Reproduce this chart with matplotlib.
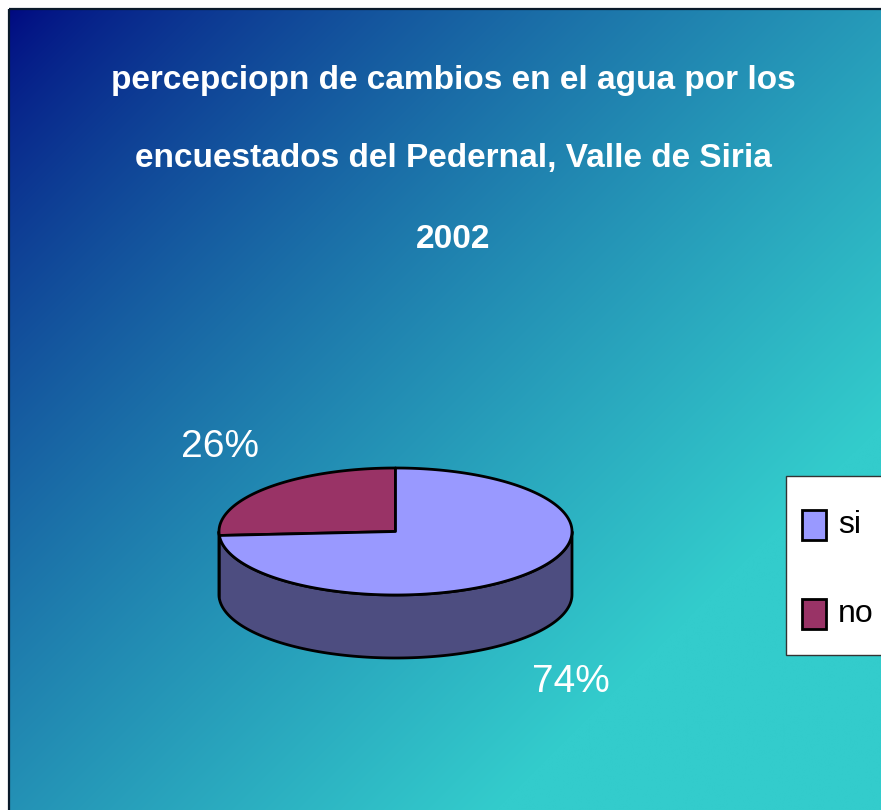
import numpy as np
import matplotlib
matplotlib.use("Agg")
import matplotlib.pyplot as plt
from matplotlib.patches import Polygon, Rectangle

# data
labels = ["si", "no"]
values = [74, 26]
pct_labels = ["74%", "26%"]
title_lines = ["percepciopn de cambios en el agua por los",
               "encuestados del Pedernal, Valle de Siria",
               "2002"]

top_colors = ["#9999ff", "#993366"]
side_colors = ["#4d4d80", "#4d1a33"]

W, H = 881, 810
fig = plt.figure(figsize=(W / 100, H / 100), dpi=100)
ax = fig.add_axes([0, 0, 1, 1])
ax.set_xlim(0, W)
ax.set_ylim(H, 0)
ax.axis("off")

# gradient background, navy top-left to turquoise bottom-right
c0 = np.array([0, 8, 128]) / 255
c1 = np.array([51, 204, 204]) / 255
yy, xx = np.mgrid[0:H, 0:W]
d = (xx + yy) / (W + H)
t = np.clip(d * 1.3, 0, 1) ** 0.75
img = c0 + (c1 - c0) * t[..., None]
ax.imshow(img, extent=[9, W, H, 9], zorder=0, aspect="auto")
ax.add_patch(Rectangle((9, 9), W + 10, H + 10, fill=False,
                       edgecolor="#0a1a2a", lw=1.6, zorder=1))

fam = ["Liberation Sans", "DejaVu Sans"]
for k, yt in enumerate([81, 158, 239]):
    ax.text(453, yt, title_lines[k], ha="center", va="center",
            color="white", fontsize=24, fontweight="bold",
            family=fam, zorder=5)

# 3d pie geometry (pixel coords)
cx, cy, rx, ry, depth = 395.5, 531.5, 176.5, 63.5, 63


def pt(a, dz=0):
    return cx + rx * np.cos(a), cy - ry * np.sin(a) + dz


# slices start at 12 o'clock, going counter-clockwise: "no" first
order = [1, 0]
start = np.pi / 2
angles = {}
for i in order:
    span = 2 * np.pi * values[i] / sum(values)
    angles[i] = (start, start + span)
    start += span

lw = 2.0
# sides (front half only)
for i in order:
    a0, a1 = angles[i]
    for k in (-1, 0, 1):
        lo = max(a0, np.pi + 2 * np.pi * k)
        hi = min(a1, 2 * np.pi + 2 * np.pi * k)
        if hi <= lo:
            continue
        a = np.linspace(lo, hi, 120)
        xs, ys = pt(a)
        poly = np.column_stack([np.r_[xs, xs[::-1]],
                                np.r_[ys, (ys + depth)[::-1]]])
        ax.add_patch(Polygon(poly, closed=True, facecolor=side_colors[i],
                             edgecolor="black", lw=lw, zorder=2,
                             joinstyle="round"))

# top faces
for i in order:
    a0, a1 = angles[i]
    a = np.linspace(a0, a1, 200)
    xs, ys = pt(a)
    poly = np.column_stack([np.r_[cx, xs], np.r_[cy, ys]])
    ax.add_patch(Polygon(poly, closed=True, facecolor=top_colors[i],
                         edgecolor="black", lw=lw, zorder=3,
                         joinstyle="round"))

# percent labels
ax.text(220, 447, pct_labels[1], ha="center", va="center", color="white",
        fontsize=28, family=fam, zorder=5)
ax.text(571, 682, pct_labels[0], ha="center", va="center", color="white",
        fontsize=28, family=fam, zorder=5)

# legend box
ax.add_patch(Rectangle((786, 476), 120, 179, facecolor="white",
                       edgecolor="#333333", lw=1.0, zorder=4))
for i, yc in zip([0, 1], [525, 614]):
    ax.add_patch(Rectangle((802, yc - 15), 24, 30, facecolor=top_colors[i],
                           edgecolor="black", lw=2.0, zorder=5))
    ax.text(838, yc, labels[i], ha="left", va="center", color="black",
            fontsize=23, family=fam, zorder=6)

fig.savefig("out.png", dpi=100)
